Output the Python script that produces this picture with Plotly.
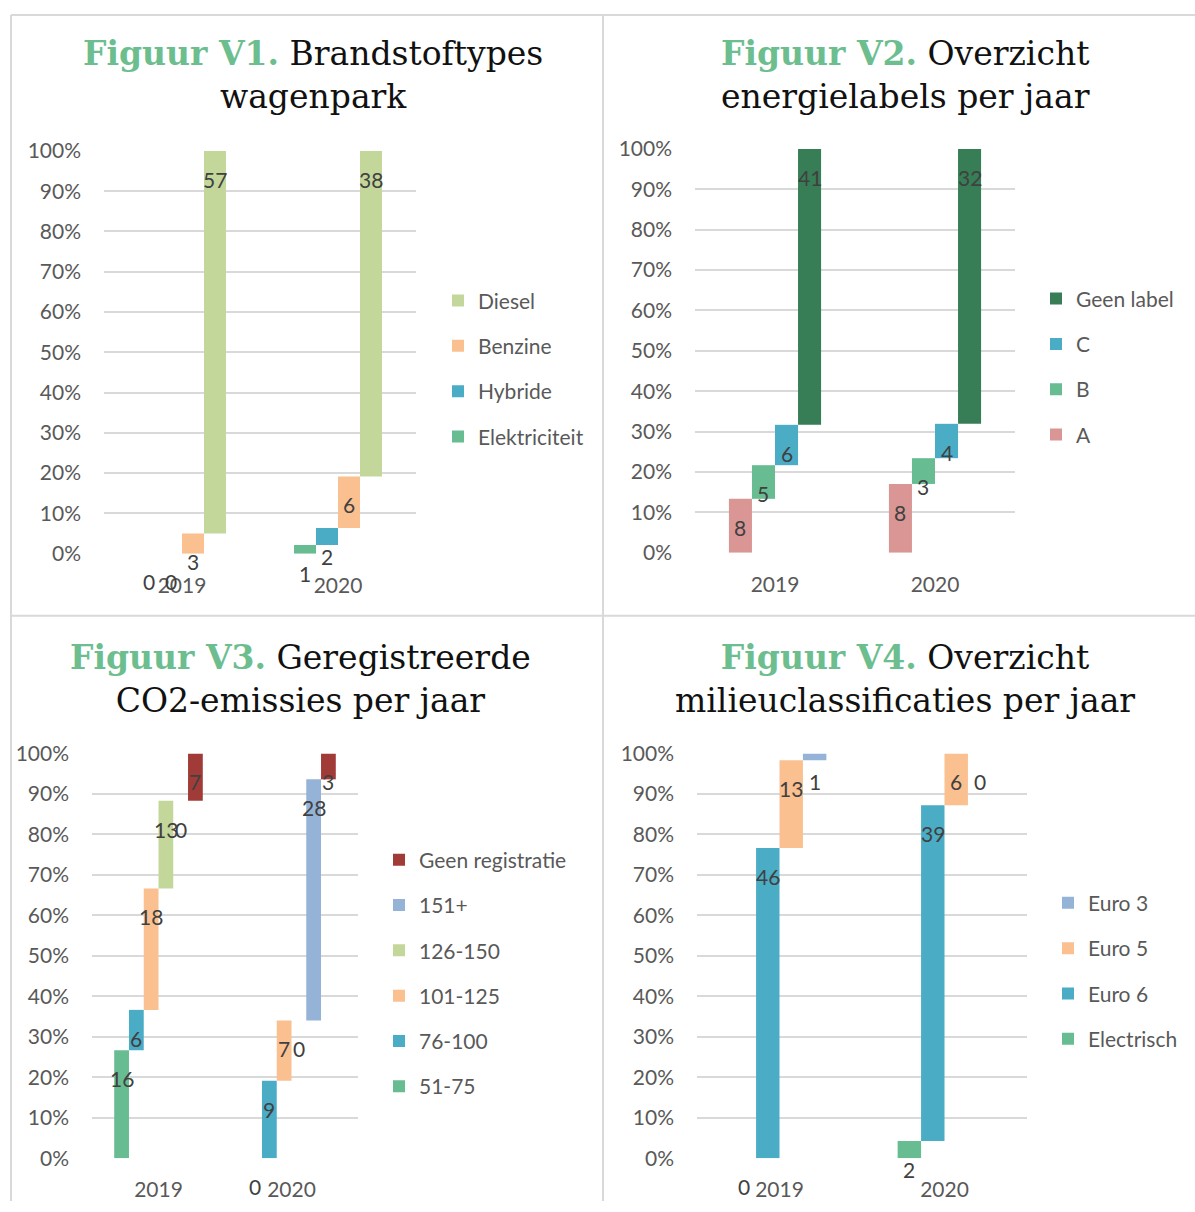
import plotly.graph_objects as go

W, H = 1195, 1212

years = ["2019", "2020"]

# Figuur V1 - Brandstoftypes wagenpark (counts per year)
v1_names = ["Elektriciteit", "Hybride", "Benzine", "Diesel"]
v1_elektriciteit = [0, 1]
v1_hybride = [0, 2]
v1_benzine = [3, 6]
v1_diesel = [57, 38]

# Figuur V2 - Energielabels per jaar
v2_names = ["A", "B", "C", "Geen label"]
v2_a = [8, 8]
v2_b = [5, 3]
v2_c = [6, 4]
v2_geen_label = [41, 32]

# Figuur V3 - Geregistreerde CO2-emissies per jaar
v3_names = ["51-75", "76-100", "101-125", "126-150", "151+", "Geen registratie"]
v3_51_75 = [16, 0]
v3_76_100 = [6, 9]
v3_101_125 = [18, 7]
v3_126_150 = [13, 0]
v3_151_plus = [0, 28]
v3_geen_registratie = [7, 3]

# Figuur V4 - Milieuclassificaties per jaar
v4_names = ["Electrisch", "Euro 6", "Euro 5", "Euro 3"]
v4_electrisch = [0, 2]
v4_euro6 = [46, 39]
v4_euro5 = [13, 6]
v4_euro3 = [1, 0]

GREEN = "#67BD91"
TEAL = "#4BACC6"
PEACH = "#FAC090"
OLIVE = "#C4D79B"
DKGREEN = "#377D56"
PINK = "#DA9694"
BLUE = "#95B3D7"
DKRED = "#A03B38"

SANS = "Lato, 'Open Sans', sans-serif"
TICK_FONT = dict(family=SANS, size=21, color="#595959")
LEGEND_FONT = dict(family=SANS, size=21, color="#595959")
LABEL_FONT = dict(family=SANS, size=21, color="#404040")
TITLE_GREEN = "#6CBE8F"

panels = [
    dict(series=[v1_elektriciteit, v1_hybride, v1_benzine, v1_diesel], names=v1_names,
         colors=[GREEN, TEAL, PEACH, OLIVE], bar_w=0.141,
         xpx=(104, 416), ypx=(139.8, 551.0), legend_px=(438, 272),
         title=("Figuur V1.", "Brandstoftypes", "wagenpark"), title_px=(313, 62)),
    dict(series=[v2_a, v2_b, v2_c, v2_geen_label], names=v2_names,
         colors=[PINK, GREEN, TEAL, DKGREEN], bar_w=0.144,
         xpx=(695, 1015), ypx=(137.8, 550.0), legend_px=(1036, 270),
         title=("Figuur V2.", "Overzicht", "energielabels per jaar"), title_px=(905, 62)),
    dict(series=[v3_51_75, v3_76_100, v3_101_125, v3_126_150, v3_151_plus, v3_geen_registratie],
         names=v3_names, colors=[GREEN, TEAL, PEACH, OLIVE, BLUE, DKRED], bar_w=0.111,
         xpx=(92, 358), ypx=(755.1, 1168.4), legend_px=(379, 843),
         title=("Figuur V3.", "Geregistreerde", "CO2-emissies per jaar"), title_px=(300, 678.6)),
    dict(series=[v4_electrisch, v4_euro6, v4_euro5, v4_euro3], names=v4_names,
         colors=[GREEN, TEAL, PEACH, BLUE], bar_w=0.142,
         xpx=(697, 1027), ypx=(755.1, 1168.4), legend_px=(1048, 887),
         title=("Figuur V4.", "Overzicht", "milieuclassificaties per jaar"), title_px=(905, 678.6)),
]

fig = go.Figure()
LABEL_DROP = 0.07  # label sits just below the top end of each floating bar
Y_RANGE = [0, 1]

for p_i, p in enumerate(panels, start=1):
    sfx = "" if p_i == 1 else str(p_i)
    xa, ya = "x" + sfx, "y" + sfx
    leg = "legend" + sfx
    n = len(p["series"])
    idx = list(range(len(years)))
    totals = [sum(s[k] for s in p["series"]) for k in idx]
    cum = [0.0] * len(years)
    w = p["bar_w"]
    for s_i, (vals, name, col) in enumerate(zip(p["series"], p["names"], p["colors"])):
        frac = [vals[k] / totals[k] for k in idx]
        base = cum[:]
        top = [base[k] + frac[k] for k in idx]
        off = -n * w / 2 + s_i * w
        fig.add_trace(go.Bar(
            x=idx, y=frac, base=base, name=name, width=w, offset=off,
            marker=dict(color=col, line=dict(width=0)),
            xaxis=xa, yaxis=ya, legend=leg, legendgroup=f"p{p_i}s{s_i}",
            legendrank=100 + n - s_i, hoverinfo="skip"))
        for k in idx:
            yval = top[k] - LABEL_DROP
            fig.add_annotation(
                xref=xa, yref=f"{ya} domain", x=k + off + w / 2,
                y=(yval - Y_RANGE[0]) / (Y_RANGE[1] - Y_RANGE[0]),
                text=str(vals[k]), showarrow=False, font=LABEL_FONT,
                xanchor="center", yanchor="middle")
        cum = top

    x0, x1 = p["xpx"]
    y0, y1 = p["ypx"]
    fig.update_layout(**{
        ("xaxis" + sfx): dict(domain=[x0 / W, x1 / W], range=[-0.5, len(years) - 0.5],
                              tickvals=idx, ticktext=years, showgrid=False, zeroline=False,
                              showline=False, ticks="", tickfont=TICK_FONT,
                              ticklabelstandoff=17, anchor=ya, fixedrange=True),
        ("yaxis" + sfx): dict(domain=[1 - y1 / H, 1 - y0 / H], range=Y_RANGE, dtick=0.1,
                              tickformat=".0%", showgrid=True, gridcolor="#D9D9D9",
                              gridwidth=1.5, zeroline=False, showline=False, ticks="",
                              tickfont=TICK_FONT, ticklabelstandoff=22, anchor=xa,
                              fixedrange=True),
        leg: dict(x=p["legend_px"][0] / W, y=1 - p["legend_px"][1] / H, xanchor="left",
                  yanchor="top", font=LEGEND_FONT, traceorder="grouped",
                  tracegroupgap=15, bgcolor="rgba(0,0,0,0)", borderwidth=0),
    })
    t_green, t_rest1, t_rest2 = p["title"]
    fig.add_annotation(
        xref="paper", yref="paper", x=p["title_px"][0] / W, y=1 - p["title_px"][1] / H,
        xanchor="center", yanchor="middle", align="center", showarrow=False,
        text=f"<span style='color:{TITLE_GREEN}'><b>{t_green}</b></span> {t_rest1}<br>{t_rest2}",
        font=dict(family="Georgia, 'DejaVu Serif', serif", size=33, color="#111111"))

border = "#D9D9D9"
for (ax0, ay0, ax1, ay1) in [(11, 1, W, 1), (11, 1, 11, H), (603, 1, 603, H), (11, 614.3, W, 614.3)]:
    fig.add_shape(type="line", xref="paper", yref="paper",
                  x0=ax0 / W, y0=1 - ay0 / H, x1=ax1 / W, y1=1 - ay1 / H,
                  line=dict(color=border, width=2), layer="below")

fig.update_layout(width=W, height=H, margin=dict(l=0, r=0, t=0, b=0),
                  paper_bgcolor="white", plot_bgcolor="white", barmode="overlay",
                  showlegend=True)

POST = ("document.documentElement.style.margin='0';document.body.style.margin='0';"
        "document.body.style.padding='0';document.body.style.overflow='hidden';"
        "var gd=document.getElementById('{plot_id}');gd.style.position='absolute';"
        "gd.style.left='0px';gd.style.top='0px';")

fig.write_html("out.html", post_script=POST, config={"displayModeBar": False})
